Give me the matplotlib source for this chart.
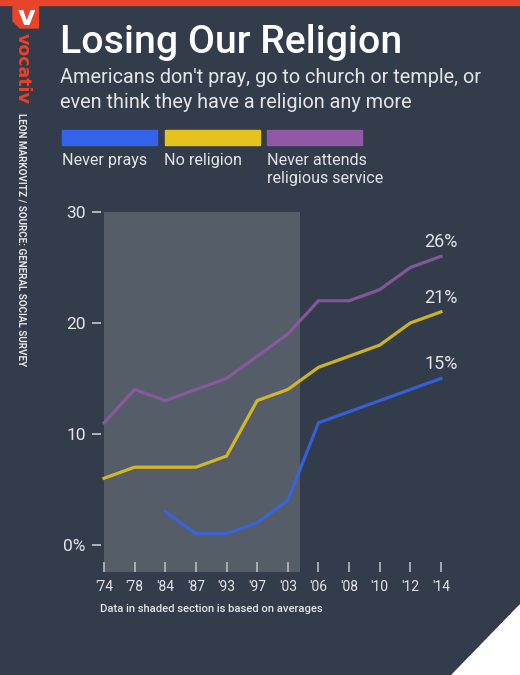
import numpy as np
import matplotlib
matplotlib.use('Agg')
import matplotlib.pyplot as plt
from matplotlib import font_manager
from matplotlib.patches import Rectangle, Polygon

# data (percent of Americans)
years = ["'74", "'78", "'84", "'87", "'93", "'97", "'03", "'06", "'08", "'10", "'12", "'14"]
never_prays = [np.nan, np.nan, 3, 1, 1, 2, 4, 11, 12, 13, 14, 15]
no_religion = [6, 7, 7, 7, 8, 13, 14, 16, 17, 18, 20, 21]
never_attends = [11, 14, 13, 14, 15, 17, 19, 22, 22, 23, 25, 26]

series_names = ["Never prays", "No religion", "Never attends\nreligious service"]
series_values = [never_prays, no_religion, never_attends]
series_colors = ['#3564ec', '#e6c31c', '#8f59a5']

y_ticks = [0, 10, 20, 30]
y_tick_labels = ['0%', '10', '20', '30']
shade_end = 6.4   # shaded (averaged) part runs to just past '03

BG = '#333c4a'
SHADE = '#555d68'
RED = '#e8432b'
LIGHT = '#e4e5e8'
W, H = 520, 675


def pick(families):
    for f in families:
        try:
            font_manager.findfont(font_manager.FontProperties(family=f),
                                  fallback_to_default=False)
            return f
        except ValueError:
            pass
    return 'DejaVu Sans'


narrow = pick(['Liberation Sans Narrow', 'Roboto', 'DejaVu Sans'])
nums = pick(['Roboto', 'DejaVu Sans'])


def fx(px):
    return px / W


def fy(py):
    return 1 - py / H


fig = plt.figure(figsize=(W / 100, H / 100), dpi=100, facecolor=BG)

# top red bar, logo tag, corner triangle
fig.patches.append(Rectangle((0, fy(5)), 1, 5 / H, transform=fig.transFigure,
                             color=RED, zorder=0))
tag = [(13, 0), (38.5, 0), (38.5, 28), (20, 28), (13, 21)]
fig.patches.append(Polygon([(fx(a), fy(b)) for a, b in tag], closed=True,
                           transform=fig.transFigure, color=RED, zorder=1))
fig.text(fx(26), fy(25), 'v', color='white', fontsize=19.5, fontweight='bold',
         family='DejaVu Sans', ha='center', va='baseline')
corner = [(520, 605), (452, 675), (520, 675)]
fig.patches.append(Polygon([(fx(a), fy(b)) for a, b in corner], closed=True,
                           transform=fig.transFigure, color='white', zorder=1))

# vertical brand and credit
fig.text(fx(22.5), fy(68), 'vocativ', color=RED, fontsize=12.5, fontweight='bold',
         family='DejaVu Sans', rotation=-90, ha='center', va='center')
fig.text(fx(21.5), fy(240), 'LEON MARKOVITZ / SOURCE: GENERAL SOCIAL SURVEY',
         color=LIGHT, fontsize=7.1, fontweight='bold', family=narrow,
         rotation=-90, ha='center', va='center')

# title and subtitle
fig.text(fx(60), fy(53), 'Losing Our Religion', color='white', fontsize=28.3,
         fontweight='medium', family=narrow, va='baseline')
fig.text(fx(60), fy(83.3), "Americans don't pray, go to church or temple, or",
         color=LIGHT, fontsize=14.3, family=narrow, va='baseline')
fig.text(fx(60), fy(108.3), "even think they have a religion any more",
         color=LIGHT, fontsize=14.3, family=narrow, va='baseline')

# legend: colour bars with labels below
for i, (name, col) in enumerate(zip(series_names, series_colors)):
    left = 62 + i * 102.5
    fig.patches.append(Rectangle((fx(left), fy(145)), 95 / W, 15 / H,
                                 transform=fig.transFigure, color=col, zorder=1))
    for j, line in enumerate(name.split('\n')):
        fig.text(fx(left), fy(165 + j * 18.3), line, color=LIGHT, fontsize=11.6,
                 family=narrow, va='baseline')

# chart
ax = fig.add_axes([fx(104), fy(571.7), (456.3 - 104) / W, (571.7 - 212) / H])
ax.set_facecolor('none')
ax.set_xlim(0, 11.5)
ax.set_ylim(-2.42, 30)
ax.axvspan(0, shade_end, color=SHADE, zorder=0, lw=0)

x = np.arange(len(years))
for vals, col in zip(series_values, series_colors):
    vals = np.array(vals, dtype=float)
    ax.plot(x, vals, color=col, lw=2.3, alpha=0.88, clip_on=False,
            solid_joinstyle='miter', zorder=3)
    ax.annotate(f'{int(vals[-1])}%', (x[-1], vals[-1]), xytext=(0, 6.5),
                textcoords='offset points', ha='center', va='baseline',
                color=LIGHT, fontsize=13, family=nums)

for s in ax.spines.values():
    s.set_visible(False)
ax.spines['left'].set_position(('outward', 2.2))

ax.set_xticks(x)
ax.set_xticklabels(years, family=nums)
ax.set_yticks(y_ticks)
ax.set_yticklabels(y_tick_labels, family=nums)
ax.tick_params(axis='x', direction='in', length=7.2, width=1.2, color='#b8bcc3',
               labelcolor=LIGHT, labelsize=10, pad=6)
ax.tick_params(axis='y', direction='out', length=6.5, width=1.2, color='#c8cbd0',
               labelcolor=LIGHT, labelsize=12.5, pad=4.5)

fig.text(fx(100), fy(611.7), 'Data in shaded section is based on averages',
         color=LIGHT, fontsize=8.1, fontweight='medium', family=narrow,
         va='baseline')

fig.savefig('out.png', dpi=100, facecolor=BG)
